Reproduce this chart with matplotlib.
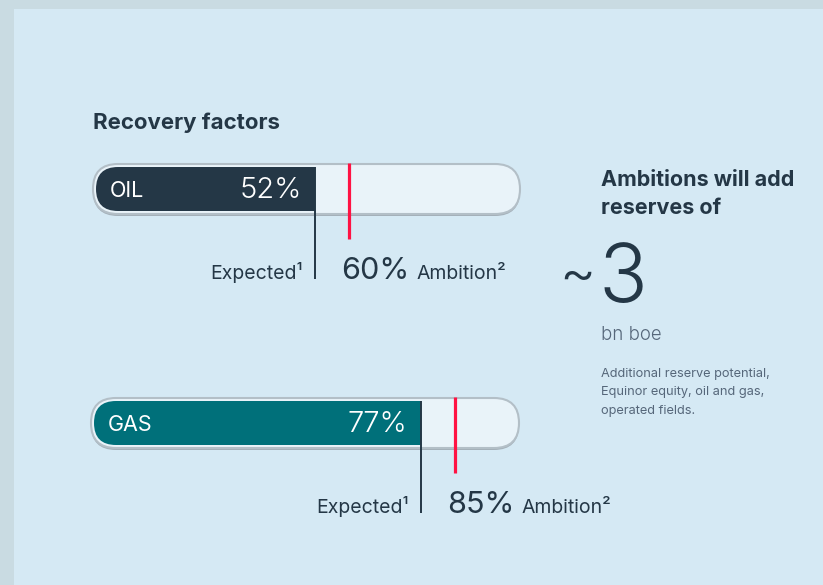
import matplotlib
matplotlib.use("Agg")
import matplotlib.pyplot as plt
from matplotlib.patches import FancyBboxPatch, Rectangle

plt.rcParams['font.family'] = ['Inter', 'DejaVu Sans']

# data
fuels = ["OIL", "GAS"]
expected = [52, 77]
ambition = [60, 85]
fill_colors = ["#243746", "#00707a"]
title = "Recovery factors"
reserves_value = "3"
reserves_unit = "bn boe"
reserves_note = ["Additional reserve potential,", "Equinor equity, oil and gas,", "operated fields."]

W, H = 823, 585
DARK = "#243746"
RED = "#ff1243"
GREY = "#56677a"

fig = plt.figure(figsize=(W / 100, H / 100), dpi=100)
fig.patch.set_facecolor("#c9dbe2")
fig.patches.append(Rectangle((14 / W, 0), 1, 1 - 9 / H, transform=fig.transFigure,
                             facecolor="#d5e9f4", edgecolor="none", zorder=-5))


def px(x, y):
    return x / W, 1 - y / H


fig.text(*px(93, 129), title, fontsize=16, fontweight="bold", color=DARK, va="baseline")


def draw_bar(left, right, cy, name, exp, amb, color):
    wpx = right - left
    u = 100 / wpx
    top, bot = cy - 45, cy + 110
    ax = fig.add_axes([left / W, 1 - bot / H, wpx / W, (bot - top) / H])
    ax.set_zorder(2)
    ax.set_xlim(0, 100)
    ax.set_ylim(-(bot - cy) * u, (cy - top) * u)
    ax.axis("off")

    h = 50 * u
    shadow = FancyBboxPatch((0, -h / 2 - 2 * u), 100, h, boxstyle=f"round,pad=0,rounding_size={h / 2}",
                            facecolor="#a4b0b9", edgecolor="none", clip_on=False)
    track = FancyBboxPatch((0, -h / 2), 100, h, boxstyle=f"round,pad=0,rounding_size={h / 2}",
                           facecolor="#e9f3f9", edgecolor="#b3bfc7", lw=1.5, clip_on=False)
    ax.add_patch(shadow)
    ax.add_patch(track)

    hi = 44 * u
    ins = 3 * u
    ax.add_patch(FancyBboxPatch((ins, -hi / 2), exp - ins, hi, boxstyle=f"round,pad=0,rounding_size={hi / 2}",
                                facecolor=color, edgecolor="none", clip_on=False))
    ax.add_patch(Rectangle((exp - hi / 2, -hi / 2), hi / 2, hi, facecolor=color, edgecolor="none",
                           clip_on=False))

    ax.plot([exp, exp], [22 * u, -90 * u], color=DARK, lw=1.4, solid_capstyle="butt", clip_on=False)
    ax.plot([amb, amb], [26.5 * u, -49.5 * u], color=RED, lw=2.3, solid_capstyle="butt", clip_on=False)

    ax.text(17 * u, -2 * u, name, color="white", fontsize=15.5, ha="left", va="center")
    ax.text(exp - 13 * u, -1 * u, f"{exp}%", color="white", fontsize=21, fontweight=300,
            ha="right", va="center")

    base = -90 * u
    ax.text(exp - 12 * u, base, "Expected\u00b9", color=DARK, fontsize=14, ha="right", va="baseline")
    t = ax.text(amb - 8 * u, base, f"{amb}%", color=DARK, fontsize=22, ha="left", va="baseline")
    ax.annotate("Ambition\u00b2", xy=(1, base), xycoords=(t, "data"), xytext=(5, 0),
                textcoords="offset points", color=DARK, fontsize=14, ha="left", va="baseline")


draw_bar(93, 520, 189, fuels[0], expected[0], ambition[0], fill_colors[0])
draw_bar(91, 519, 423, fuels[1], expected[1], ambition[1], fill_colors[1])

fig.text(*px(601, 186), "Ambitions will add", fontsize=15.5, fontweight="bold", color=DARK, va="baseline")
fig.text(*px(601, 214), "reserves of", fontsize=15.5, fontweight="bold", color=DARK, va="baseline")
fig.text(*px(598, 302), reserves_value, fontsize=58, fontweight=300, color=DARK, va="baseline")
fig.text(*px(596, 277), "~", fontsize=40, fontweight=300, color=DARK, ha="right", va="center")
fig.text(*px(601, 340), reserves_unit, fontsize=13.5, fontweight=300, color=GREY, va="baseline")
for i, line in enumerate(reserves_note):
    fig.text(*px(601, 377 + 18.5 * i), line, fontsize=9.2, color=GREY, va="baseline")

fig.savefig("out.png", dpi=100, facecolor=fig.get_facecolor())
